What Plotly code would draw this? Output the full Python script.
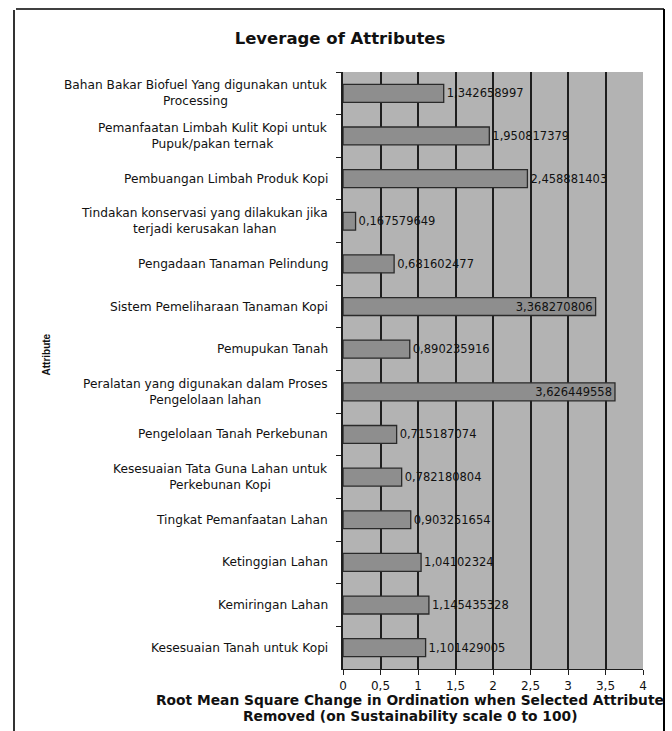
import plotly.graph_objects as go

# Attribute names, top to bottom as in the leverage chart
attributes = [
    "Bahan Bakar Biofuel Yang digunakan untuk<br>Processing",
    "Pemanfaatan Limbah Kulit Kopi untuk<br>Pupuk/pakan ternak",
    "Pembuangan Limbah Produk Kopi",
    "Tindakan konservasi yang dilakukan jika<br>terjadi kerusakan lahan",
    "Pengadaan Tanaman Pelindung",
    "Sistem Pemeliharaan Tanaman Kopi",
    "Pemupukan Tanah",
    "Peralatan yang digunakan dalam Proses<br>Pengelolaan lahan",
    "Pengelolaan Tanah Perkebunan",
    "Kesesuaian Tata Guna Lahan untuk<br>Perkebunan Kopi",
    "Tingkat Pemanfaatan Lahan",
    "Ketinggian Lahan",
    "Kemiringan Lahan",
    "Kesesuaian Tanah untuk Kopi",
]

# RMS change in ordination when the attribute is removed
rms_change = [
    1.342658997,
    1.950817379,
    2.458881403,
    0.167579649,
    0.681602477,
    3.368270806,
    0.890235916,
    3.626449558,
    0.715187074,
    0.782180804,
    0.903251654,
    1.04102324,
    1.145435328,
    1.101429005,
]

x_ticks = [0, 0.5, 1, 1.5, 2, 2.5, 3, 3.5, 4]

x_title_lines = [
    "Root Mean Square Change in Ordination when Selected Attribute",
    "Removed (on Sustainability scale 0 to 100)",
]

# Window geometry (px)
W, H = 672, 731
L, R, T, B = 343, 29, 72, 62
plot_w = W - L - R
plot_h = H - T - B

FONT = "DejaVu Sans, Arial, sans-serif"
LABEL_SIZE = 11.5


def px_x(x):
    # screen x (px) -> paper x
    return (x - L) / plot_w


def px_y(y):
    # screen y (px) -> paper y
    return (H - B - y) / plot_h


labels = [f"{v:.9f}".rstrip("0").replace(".", ",") for v in rms_change]
# long bars would push their label out of the frame, keep those inside
positions = ["inside" if v > 3.2 else "outside" for v in rms_change]

fig = go.Figure(
    go.Bar(
        x=rms_change,
        y=attributes,
        orientation="h",
        marker=dict(color="#8e8e8e", line=dict(color="#2a2a2a", width=1.3)),
        text=labels,
        textposition=positions,
        insidetextanchor="end",
        textfont=dict(family=FONT, size=LABEL_SIZE, color="#111111"),
        cliponaxis=False,
        hoverinfo="skip",
    )
)

# Category labels: right aligned block, centred lines (Excel look)
for name in attributes:
    fig.add_annotation(
        x=0,
        xref="paper",
        y=name,
        yref="y",
        text=name,
        showarrow=False,
        xanchor="right",
        xshift=-13,
        align="center",
        font=dict(family=FONT, size=12.2, color="#111111"),
    )

# Axis titles
fig.add_annotation(
    x=px_x(38),
    xref="paper",
    y=px_y(355),
    yref="paper",
    text="<b>Attribute</b>",
    textangle=-90,
    showarrow=False,
    font=dict(family="Liberation Sans, Arial, sans-serif", size=10, color="#111111"),
)
for i, line in enumerate(x_title_lines):
    fig.add_annotation(
        x=px_x(410),
        xref="paper",
        xanchor="center",
        y=px_y(700 + 16 * i),
        yref="paper",
        yanchor="middle",
        text=f"<b>{line}</b>",
        showarrow=False,
        font=dict(family=FONT, size=13.8, color="#111111"),
    )

# Outer chart frame (open at the bottom of the window)
frame = [
    (16, 9, 664, 9, "#000000", 1.5),
    (14, 10, 14, 740, "#333333", 2),
    (664, 9, 664, 740, "#000000", 2),
]
for x0, y0, x1, y1, color, width in frame:
    fig.add_shape(
        type="line", xref="paper", yref="paper",
        x0=px_x(x0), x1=px_x(x1), y0=px_y(y0), y1=px_y(y1),
        line=dict(color=color, width=width),
    )

fig.update_layout(
    width=W,
    height=H,
    margin=dict(l=L, r=R, t=T, b=B),
    paper_bgcolor="white",
    plot_bgcolor="#b3b3b3",
    separators=",.",
    bargap=0.58,
    showlegend=False,
    # keep the inside labels the same size as the outside ones
    uniformtext=dict(minsize=LABEL_SIZE, mode="show"),
    title=dict(
        text="<b>Leverage of Attributes</b>",
        x=340 / W,
        xanchor="center",
        y=1 - 38 / H,
        yanchor="middle",
        font=dict(family=FONT, size=16.5, color="#111111"),
    ),
    xaxis=dict(
        range=[0, 4],
        tickvals=x_ticks,
        showgrid=True,
        gridcolor="#1e1e1e",
        gridwidth=1.5,
        zeroline=False,
        showline=True,
        linecolor="#1e1e1e",
        linewidth=1.2,
        ticks="outside",
        ticklen=5,
        tickcolor="#1e1e1e",
        tickfont=dict(family=FONT, size=12, color="#111111"),
        fixedrange=True,
    ),
    yaxis=dict(
        autorange="reversed",
        showticklabels=False,
        showgrid=False,
        zeroline=False,
        showline=True,
        linecolor="#1e1e1e",
        linewidth=1.5,
        ticks="outside",
        tickson="boundaries",
        ticklen=5,
        tickcolor="#1e1e1e",
        fixedrange=True,
    ),
)

# drop the default body margin so the figure sits at the window's corner
fig.write_html(
    "out.html",
    config={"displayModeBar": False},
    post_script="document.body.style.margin = '0';",
)
